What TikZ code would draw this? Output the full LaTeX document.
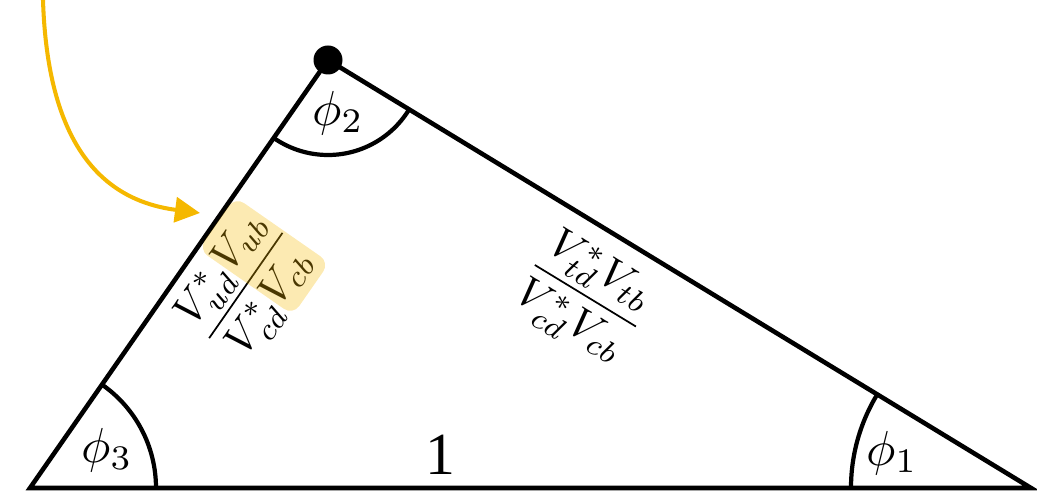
\documentclass[tikz,border=0pt]{standalone}
\usepackage{amsmath}
\usepackage{fontspec}
\newfontfamily\numfont{Liberation Serif}
\usetikzlibrary{arrows.meta}
\definecolor{arrowc}{RGB}{245,184,0}
\tikzset{
  edge/.style={line width=2.6pt, line join=miter},
  anglemark/.style={line width=2.4pt},
  anglelabel/.style={scale=2.8, inner sep=0pt},
  fraclabel/.style={scale=2.45, inner sep=0.5pt},
  highlight/.style={fill=arrowc, fill opacity=0.3, rounded corners=0.22cm, minimum width=1.28cm, minimum height=2.3cm, inner sep=0pt},
  pointer/.style={draw=arrowc, line width=2.3pt, -{Triangle[length=0.5cm, width=0.5cm]}}
}
\begin{document}
\begin{tikzpicture}
\useasboundingbox (0,0) rectangle (20.74,9.84);
\coordinate (A) at (0.6,0.08);
\coordinate (B) at (20.62,0.08);
\coordinate (C) at (6.56,8.64);
% triangle
\draw[edge] (A) -- (B) -- (C) -- cycle;
% angle marks
\draw[anglemark] ([shift={(235.15:1.9)}]C) arc[start angle=235.15, end angle=328.67, radius=1.9];
\draw[anglemark] ([shift={(0:2.52)}]A) arc[start angle=0, end angle=55.15, radius=2.52];
\draw[anglemark] ([shift={(148.67:3.6)}]B) arc[start angle=148.67, end angle=180, radius=3.6];
% vertex dot
\fill (C) circle (0.29);
% angle labels
\node[anglelabel] (p2) at (6.76,7.58) {$\phi_2$};
\node[anglelabel] (p3) at (2.14,0.84) {$\phi_3$};
\node[anglelabel] (p1) at (17.84,0.78) {$\phi_1$};
\node[inner sep=0pt, font=\numfont\fontsize{34}{40}\selectfont] (one) at (8.8,0.74) {1};
% side labels
\node[fraclabel, rotate=55.15] (fl) at (4.96,4.1) {$\dfrac{V_{ud}^{*}V_{ub}}{V_{cd}^{*}V_{cb}}$};
\node[fraclabel, rotate=-31.33] (fr) at (11.68,3.88) {$\dfrac{V_{td}^{*}V_{tb}}{V_{cd}^{*}V_{cb}}$};
% highlight box
\node[highlight, rotate=55.15] (hl) at (5.28,4.72) {};
% pointer arrow
\coordinate (s) at (0.86,9.84);
\coordinate (t) at (4.0,5.58);
\draw[pointer] (s) .. controls (0.95,7.0) and (2.0,5.84) .. (t);
\end{tikzpicture}
\end{document}
